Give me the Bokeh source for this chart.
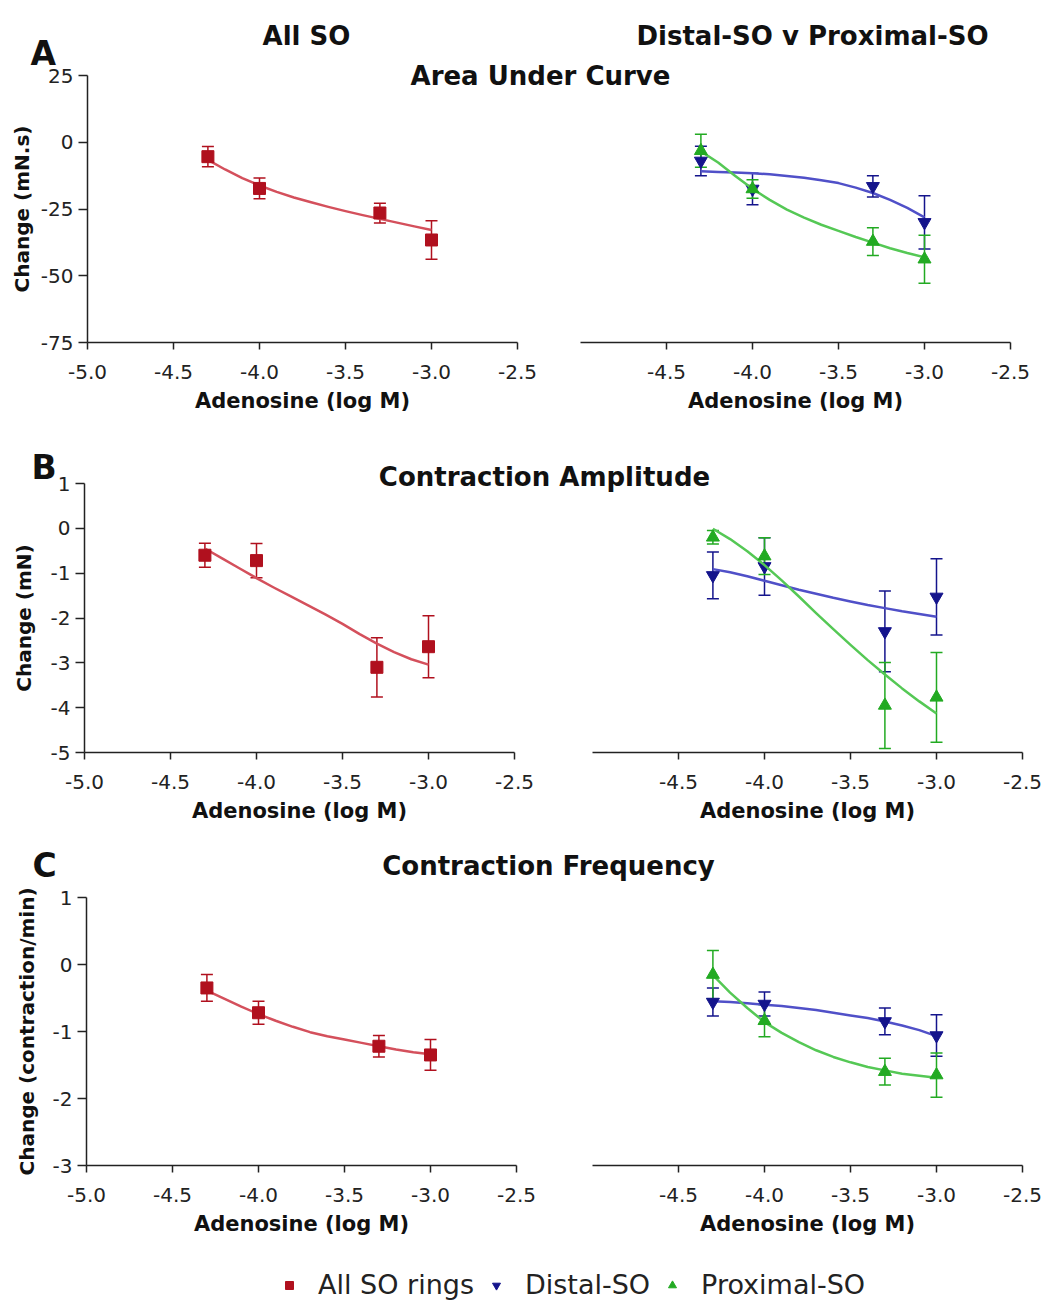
from bokeh.plotting import figure
from bokeh.models import (Range1d, FixedTicker, PrintfTickFormatter, Whisker, TeeHead,
                          ColumnDataSource, Legend, LegendItem)
from bokeh.layouts import row, column
from bokeh.core.properties import value
from bokeh.embed import file_html
from bokeh.resources import INLINE

# ---------------- data ----------------
doses = [-4.3, -4.0, -3.3, -3.0]                     # log M
fit_x = [-4.3, -4.2, -4.1, -4.0, -3.9, -3.8, -3.7, -3.6, -3.5, -3.4, -3.3, -3.2, -3.1, -3.0]
x_ticks_left = [-5.0, -4.5, -4.0, -3.5, -3.0, -2.5]
x_ticks_right = [-4.5, -4.0, -3.5, -3.0, -2.5]

auc_y_ticks = [-75, -50, -25, 0, 25]
amp_y_ticks = [-5, -4, -3, -2, -1, 0, 1]
freq_y_ticks = [-3, -2, -1, 0, 1]

# A: Area under curve (mN.s)
auc_all = [-5.4, -17.3, -26.5, -36.6]
auc_all_err = [3.8, 3.9, 3.7, 7.2]
auc_all_fit = [-6.6, -10.2, -13.4, -16.2, -18.6, -20.7, -22.5, -24.2, -25.8, -27.3, -28.7, -30.1, -31.5, -32.9]
auc_distal = [-7.0, -17.5, -16.5, -30.0]
auc_distal_err = [5.5, 5.9, 4.0, 10.0]
auc_distal_fit = [-10.9, -11.1, -11.3, -11.6, -12.0, -12.6, -13.3, -14.2, -15.3, -17.0, -19.0, -21.6, -24.6, -28.1]
auc_prox = [-3.2, -17.5, -37.2, -43.8]
auc_prox_err = [6.2, 3.5, 5.2, 9.0]
auc_prox_fit = [-3.4, -7.6, -12.6, -17.4, -21.6, -25.2, -28.2, -30.9, -33.2, -35.5, -37.6, -39.7, -41.5, -43.1]

# B: Contraction amplitude (mN)
amp_all = [-0.6, -0.72, -3.1, -2.64]
amp_all_err = [0.27, 0.38, 0.66, 0.69]
amp_all_fit = [-0.45, -0.67, -0.89, -1.11, -1.32, -1.52, -1.72, -1.92, -2.13, -2.36, -2.57, -2.76, -2.92, -3.04]
amp_distal = [-1.05, -0.85, -2.3, -1.53]
amp_distal_err = [0.52, 0.64, 0.9, 0.85]
amp_distal_fit = [-0.91, -0.98, -1.07, -1.17, -1.27, -1.37, -1.46, -1.55, -1.63, -1.71, -1.78, -1.85, -1.91, -1.97]
amp_prox = [-0.2, -0.62, -3.95, -3.77]
amp_prox_err = [0.15, 0.41, 0.96, 1.0]
amp_prox_fit = [-0.01, -0.24, -0.51, -0.82, -1.16, -1.52, -1.89, -2.25, -2.6, -2.94, -3.26, -3.57, -3.86, -4.13]

# C: Contraction frequency (contraction/min)
freq_all = [-0.35, -0.72, -1.22, -1.35]
freq_all_err = [0.2, 0.17, 0.16, 0.23]
freq_all_fit = [-0.39, -0.51, -0.63, -0.74, -0.84, -0.93, -1.01, -1.07, -1.12, -1.17, -1.22, -1.27, -1.31, -1.34]
freq_distal = [-0.56, -0.59, -0.85, -1.06]
freq_distal_err = [0.21, 0.18, 0.2, 0.31]
freq_distal_fit = [-0.55, -0.56, -0.58, -0.6, -0.62, -0.65, -0.68, -0.72, -0.76, -0.8, -0.85, -0.91, -0.98, -1.07]
freq_prox = [-0.15, -0.84, -1.6, -1.65]
freq_prox_err = [0.36, 0.24, 0.2, 0.33]
freq_prox_fit = [-0.16, -0.42, -0.65, -0.86, -1.02, -1.16, -1.28, -1.38, -1.46, -1.53, -1.58, -1.63, -1.66, -1.69]

series_names = ["All SO rings", "Distal-SO", "Proximal-SO"]
column_titles = ["All SO", "Distal-SO v Proximal-SO"]
row_letters = ["A", "B", "C"]
row_titles = ["Area Under Curve", "Contraction Amplitude", "Contraction Frequency"]
y_labels = ["Change (mN.s)", "Change (mN)", "Change (contraction/min)"]
x_label = "Adenosine (log M)"

# ---------------- styles ----------------
RED, RED_FIT = "#b0101e", "#d4505c"
BLUE, BLUE_FIT = "#14148c", "#5050c8"
GREEN, GREEN_FIT = "#22aa22", "#55c855"
AXIS = "#222222"
FONT = "DejaVu Sans"


def style_axis(ax):
    ax.axis_line_color = AXIS
    ax.axis_line_width = 1.5
    ax.major_tick_line_color = AXIS
    ax.major_tick_line_width = 1.5
    ax.major_tick_in = 0
    ax.minor_tick_line_color = None
    ax.major_label_text_font = FONT
    ax.major_label_text_font_size = "20px"
    ax.major_label_text_color = "#222222"
    ax.axis_label_text_font = FONT
    ax.axis_label_text_font_style = "bold"
    ax.axis_label_text_font_size = "21px"
    ax.axis_label_text_color = "#111111"


def panel(y0, y1, yticks, fw, fh, bl, br, bt, bb, left, ylabel=None, ylab_standoff=4):
    p = figure(x_range=Range1d(-5.0, -2.5), y_range=Range1d(y0, y1),
               frame_width=fw, frame_height=fh,
               min_border_left=bl, min_border_right=br,
               min_border_top=bt, min_border_bottom=bb,
               toolbar_location=None, output_backend="svg",
               y_axis_location="left" if left else None)
    p.outline_line_color = None
    p.grid.visible = False
    p.background_fill_alpha = 0
    p.border_fill_alpha = 0
    xa = p.xaxis[0]
    xa.ticker = FixedTicker(ticks=x_ticks_left if left else x_ticks_right)
    xa.formatter = PrintfTickFormatter(format="%.1f")
    xa.axis_label = x_label
    style_axis(xa)
    xa.major_tick_out = 7
    xa.major_label_standoff = 15
    xa.axis_label_standoff = 7
    if left:
        ya = p.yaxis[0]
        ya.ticker = FixedTicker(ticks=yticks)
        ya.formatter = PrintfTickFormatter(format="%d")
        ya.axis_label = ylabel
        style_axis(ya)
        ya.axis_label_text_font_size = "20px"
        ya.major_tick_out = 9
        ya.major_label_standoff = 5
        ya.axis_label_standoff = ylab_standoff
    return p


def add_series(p, vals, errs, fit, color, fit_color, marker, size):
    p.line(fit_x, fit, line_color=fit_color, line_width=2.5, line_join="round")
    src = ColumnDataSource(dict(x=doses, y=vals,
                                lo=[v - e for v, e in zip(vals, errs)],
                                hi=[v + e for v, e in zip(vals, errs)]))
    p.add_layout(Whisker(source=src, base="x", upper="hi", lower="lo",
                         line_color=color, line_width=1.5,
                         upper_head=TeeHead(size=12, line_color=color, line_width=1.5),
                         lower_head=TeeHead(size=12, line_color=color, line_width=1.5)))
    p.scatter("x", "y", source=src, marker=marker, size=size,
              fill_color=color, line_color=color)


# ---------------- panels (frame positions in page pixels) ----------------
AL = panel(-75, 25, auc_y_ticks, 430, 267, 87, 31, 75, 88, True, y_labels[0], 4)
AR = panel(-75, 25, None, 430, 267, 32, 36, 75, 88, False)
BL = panel(-5, 1, amp_y_ticks, 430, 269, 84, 34, 53, 78, True, y_labels[1], 12)
BR = panel(-5, 1, None, 430, 269, 44, 24, 53, 78, False)
CL = panel(-3, 1, freq_y_ticks, 430, 268, 86, 32, 67, 75, True, y_labels[2], 11)
CR = panel(-3, 1, None, 430, 268, 44, 24, 67, 75, False)

add_series(AL, auc_all, auc_all_err, auc_all_fit, RED, RED_FIT, "square", 12)
add_series(AR, auc_distal, auc_distal_err, auc_distal_fit, BLUE, BLUE_FIT, "inverted_triangle", 13)
add_series(AR, auc_prox, auc_prox_err, auc_prox_fit, GREEN, GREEN_FIT, "triangle", 13)

add_series(BL, amp_all, amp_all_err, amp_all_fit, RED, RED_FIT, "square", 12)
add_series(BR, amp_distal, amp_distal_err, amp_distal_fit, BLUE, BLUE_FIT, "inverted_triangle", 13)
add_series(BR, amp_prox, amp_prox_err, amp_prox_fit, GREEN, GREEN_FIT, "triangle", 13)

add_series(CL, freq_all, freq_all_err, freq_all_fit, RED, RED_FIT, "square", 12)
add_series(CR, freq_distal, freq_distal_err, freq_distal_fit, BLUE, BLUE_FIT, "inverted_triangle", 13)
add_series(CR, freq_prox, freq_prox_err, freq_prox_fit, GREEN, GREEN_FIT, "triangle", 13)

# ---------------- overlay with titles and legend ----------------
ov = figure(width=1046, height=1302, x_range=Range1d(0, 1046), y_range=Range1d(1302, 0),
            min_border=0, toolbar_location=None, output_backend="svg",
            x_axis_location=None, y_axis_location=None)
ov.grid.visible = False
ov.outline_line_color = None

ov.text(x=[306, 812], y=[35, 35], text=column_titles, text_font=value(FONT),
        text_font_style="bold", text_font_size="26px", text_color="#111111",
        text_align="center", text_baseline="alphabetic")
ov.text(x=[30, 31, 32], y=[53, 467, 865], text=row_letters, text_font=value(FONT),
        text_font_style="bold", text_font_size="33px", text_color="#111111",
        text_align="left", text_baseline="alphabetic")
ov.text(x=[540, 544, 548], y=[75, 476, 865], text=row_titles, text_font=value(FONT),
        text_font_style="bold", text_font_size="26px", text_color="#111111",
        text_align="center", text_baseline="alphabetic")

# legend proxies: the real series, which fall outside this overlay's pixel ranges
r_all = ov.scatter(x=doses, y=auc_all, marker="square", color=RED)
r_dis = ov.scatter(x=doses, y=auc_distal, marker="inverted_triangle", color=BLUE)
r_pro = ov.scatter(x=doses, y=auc_prox, marker="triangle", color=GREEN)
legend = Legend(items=[LegendItem(label=series_names[0], renderers=[r_all]),
                       LegendItem(label=series_names[1], renderers=[r_dis]),
                       LegendItem(label=series_names[2], renderers=[r_pro])],
                orientation="horizontal", location=(279, 2),
                glyph_width=20, glyph_height=20, label_standoff=19, spacing=12,
                padding=0, margin=0, border_line_color=None, background_fill_alpha=0,
                label_text_font=FONT, label_text_font_size="27px", label_text_color="#222222")
ov.add_layout(legend)
ov.styles = {"margin-bottom": "-1302px"}

layout = column(ov, row(AL, AR), row(BL, BR), row(CL, CR))

open("out.html", "w").write(file_html(layout, INLINE))
